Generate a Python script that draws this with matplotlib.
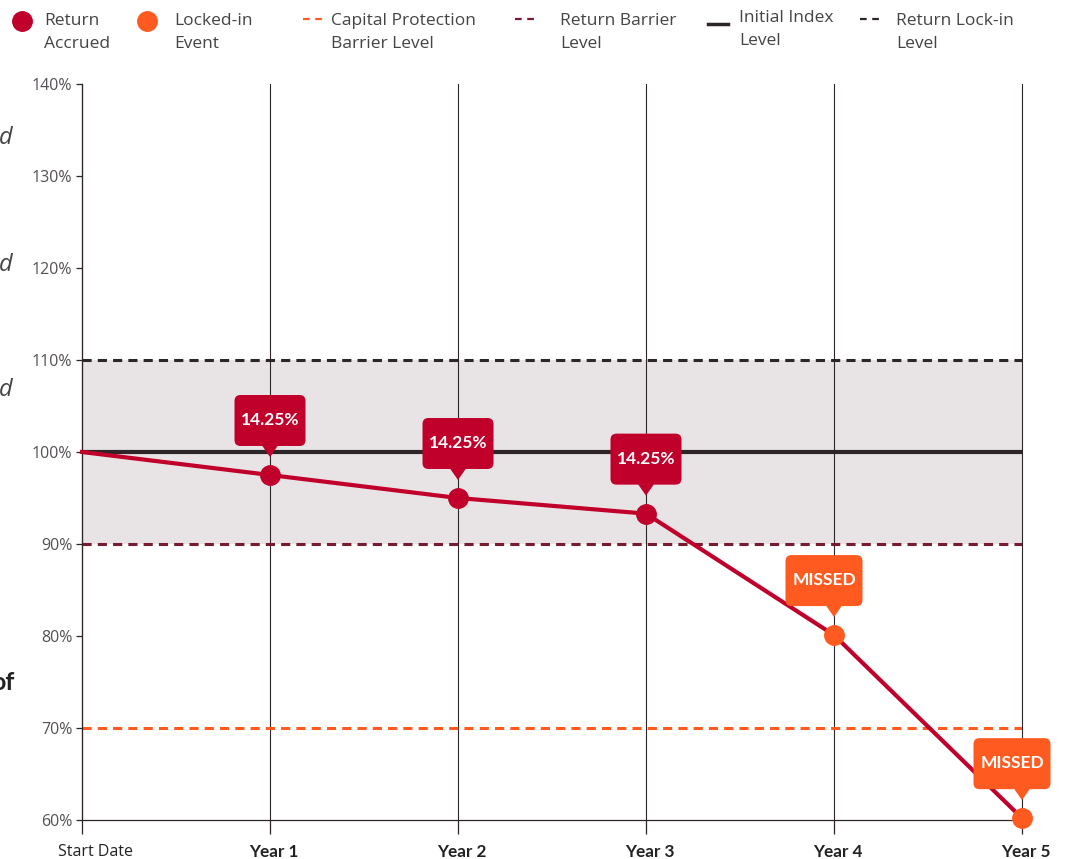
import matplotlib
matplotlib.use("Agg")
import matplotlib.pyplot as plt
from matplotlib.patches import FancyBboxPatch, Polygon
from matplotlib.lines import Line2D
import matplotlib.transforms as mtransforms

plt.rcParams['font.family'] = ['Open Sans', 'DejaVu Sans']
BOLD_FONT = ['Lato', 'DejaVu Sans']

# data
period_labels = ['Start Date', 'Year 1', 'Year 2', 'Year 3', 'Year 4', 'Year 5']
index_level = [100.0, 97.5, 95.0, 93.3, 80.1, 60.2]
event_type = ['start', 'accrued', 'accrued', 'accrued', 'missed', 'missed']
callout_text = ['', '14.25%', '14.25%', '14.25%', 'MISSED', 'MISSED']
callout_shift = [0, 0, 0, 0, -10, -10]
lockin_level = 110
initial_level = 100
return_barrier = 90
capital_barrier = 70
y_ticks = [60, 70, 80, 90, 100, 110, 120, 130, 140]

RED = '#c0002b'
ORANGE = '#ff5a1f'
MAROON = '#7a1a30'
DARK = '#2d2527'
BAND = '#e8e4e6'
GREY = '#555055'

W, H = 1070, 859
fig = plt.figure(figsize=(W / 100, H / 100), dpi=100)
ax = fig.add_axes([82 / W, 1 - 820 / H, 940 / W, 736 / H])

x = list(range(len(period_labels)))
ax.set_xlim(0, 5)
ax.set_ylim(60, 140)

# band between barriers
ax.axhspan(return_barrier, lockin_level, color=BAND, zorder=0, lw=0)

# vertical grid
for xi in x:
    ax.axvline(xi, color=DARK, lw=0.8, zorder=1, clip_on=False)

ax.axhline(lockin_level, color=DARK, lw=2.2, ls=(0, (3, 2)), zorder=2)
ax.axhline(initial_level, color=DARK, lw=3, zorder=2)
ax.axhline(return_barrier, color=MAROON, lw=2.2, ls=(0, (3, 2)), zorder=2)
ax.axhline(capital_barrier, color=ORANGE, lw=2.2, ls=(0, (3, 2)), zorder=2)

ax.plot(x, index_level, color=RED, lw=3, zorder=4, clip_on=False)
for xi, yi, ev in zip(x, index_level, event_type):
    if ev == 'start':
        continue
    c = RED if ev == 'accrued' else ORANGE
    ax.plot(xi, yi, 'o', ms=14, color=c, mec=c, zorder=5, clip_on=False)

# callouts (sizes in pixels)
for xi, yi, txt, sh, ev in zip(x, index_level, callout_text, callout_shift, event_type):
    if not txt:
        continue
    c = RED if ev == 'accrued' else ORANGE
    tr = mtransforms.Affine2D() + mtransforms.ScaledTranslation(xi, yi, ax.transData)
    bw = 71 if ev == 'accrued' else 77
    box = FancyBboxPatch((sh - bw / 2 + 6, 35), bw - 12, 39,
                         boxstyle='round,pad=6,rounding_size=6',
                         transform=tr, fc=c, ec='none', zorder=6, clip_on=False)
    ax.add_patch(box)
    tri = Polygon([(-8, 29.5), (8, 29.5), (0, 18)], closed=True, transform=tr,
                  fc=c, ec='none', zorder=6, clip_on=False)
    ax.add_patch(tri)
    ax.text(sh, 55, txt, transform=tr, ha='center', va='center', color='white',
            fontsize=12.5, fontweight='bold', family=BOLD_FONT, zorder=7, clip_on=False)

# axes styling
for s in ['top', 'right']:
    ax.spines[s].set_visible(False)
ax.spines['left'].set_color(DARK)
ax.spines['bottom'].set_color(DARK)
ax.spines['left'].set_linewidth(0.9)
ax.spines['bottom'].set_linewidth(0.9)

ax.set_yticks(y_ticks)
ax.set_yticklabels([f'{v}%' for v in y_ticks])
ax.tick_params(axis='y', length=4, width=0.9, color=DARK, labelcolor=GREY,
               labelsize=11.5, pad=3)
ax.set_xticks(x)
ax.set_xticklabels(period_labels)
ax.tick_params(axis='x', length=10, width=0.9, color=DARK, labelcolor='#222222',
               labelsize=11.5, pad=7)
for i, lab in enumerate(ax.get_xticklabels()):
    dx = 14 if i == 0 else 4
    lab.set_transform(lab.get_transform() +
                      mtransforms.ScaledTranslation(dx / 100, 0, fig.dpi_scale_trans))
    if i > 0:
        lab.set_fontweight('bold')
        lab.set_family(BOLD_FONT)
        lab.set_fontsize(12.3)

# legend (drawn in figure pixels)
legend_items = [
    ('circle', RED, 'Return\nAccrued', 22, 44),
    ('circle', ORANGE, 'Locked-in\nEvent', 147, 174),
    ('dash', ORANGE, 'Capital Protection\nBarrier Level', 303, 331),
    ('dash', MAROON, 'Return Barrier\nLevel', 515, 560),
    ('solid', DARK, 'Initial Index\nLevel', 708, 739),
    ('dash', DARK, 'Return Lock-in\nLevel', 860, 896),
]
for kind, c, lab, hx, tx in legend_items:
    if kind == 'circle':
        fig.add_artist(Line2D([hx / W], [1 - 21 / H], marker='o', ms=14, color=c, lw=0))
        ty = 23
    elif kind == 'dash':
        fig.add_artist(Line2D([hx / W, (hx + 22) / W], [1 - 19 / H] * 2, color=c,
                              lw=1.6, ls=(0, (3, 2.5))))
        ty = 23
    else:
        fig.add_artist(Line2D([hx / W, (hx + 20) / W], [1 - 24 / H] * 2, color=c, lw=2.5))
        ty = 20
    fig.text(tx / W, 1 - (ty - 10) / H, lab, ha='left', va='top', fontsize=12.5,
             color='#444444', linespacing=1.6)

# clipped page text at left edge
for yy in [138, 265, 390]:
    fig.text(-0.001, 1 - yy / H, 'd', style='italic', fontsize=17, color='#444444',
             ha='left', va='center')
fig.text(14 / W, 1 - 683 / H, 'of', fontweight='bold', family=BOLD_FONT, fontsize=18,
         color='#222222', ha='right', va='center')

fig.savefig('out.png', dpi=100)
